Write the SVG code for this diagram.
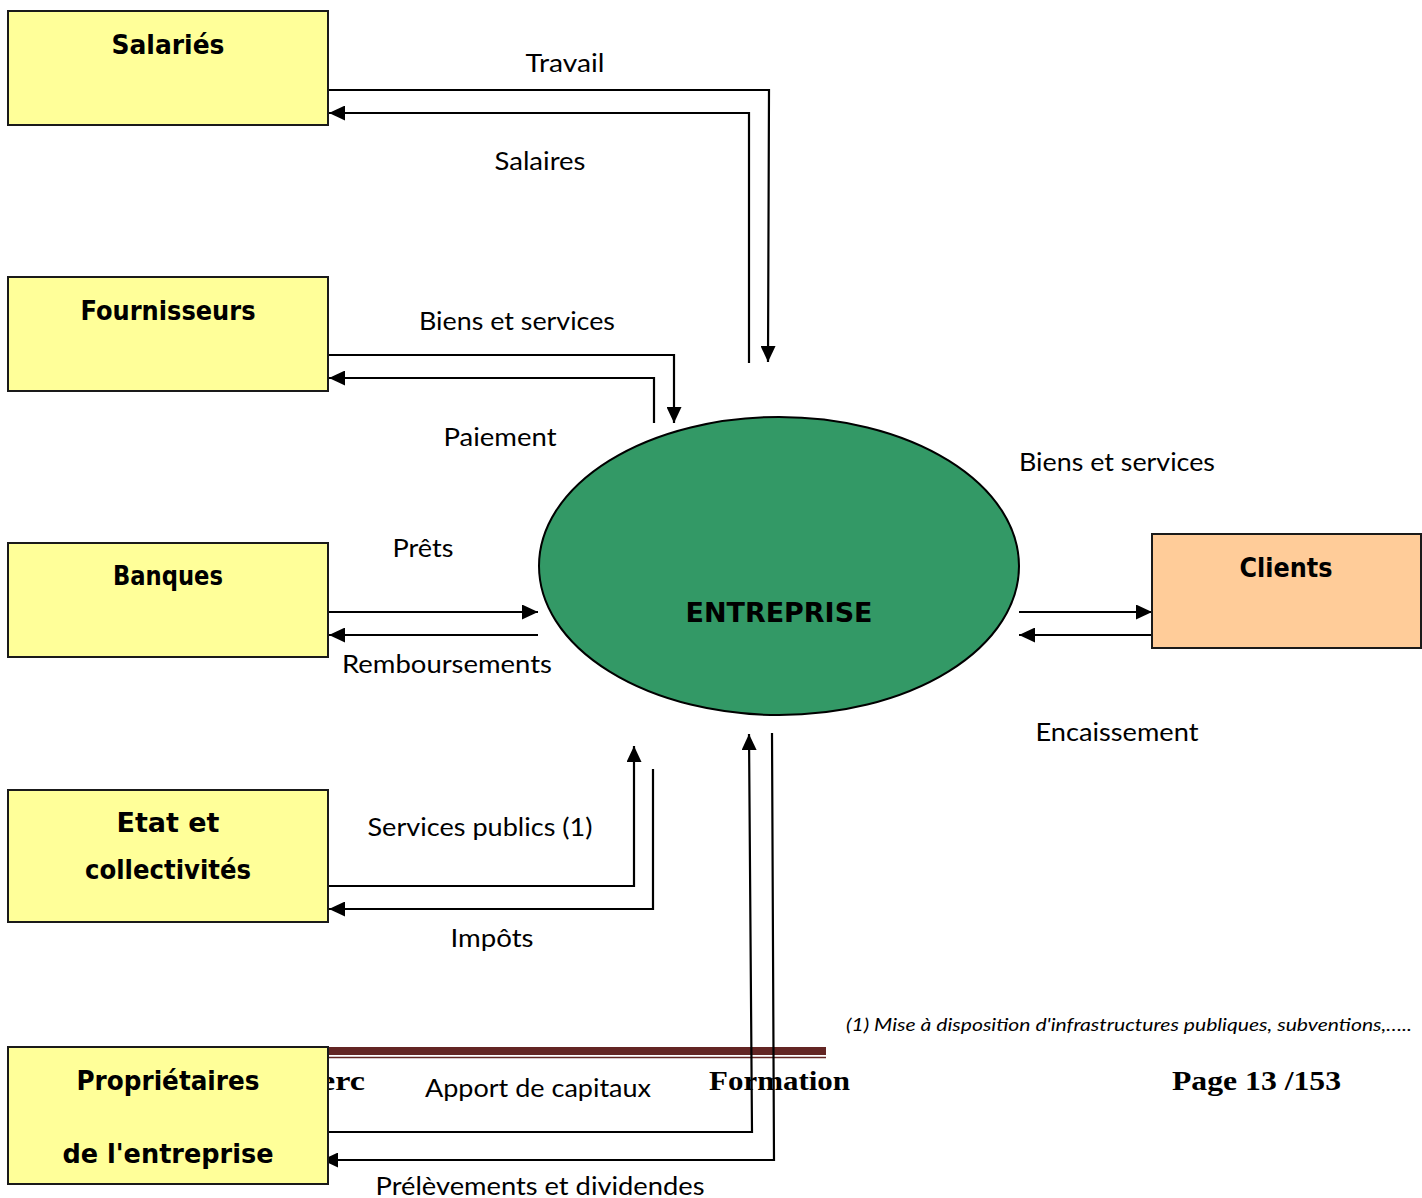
<svg xmlns="http://www.w3.org/2000/svg" width="1422" height="1198" viewBox="0 0 1422 1198">
<style>
.box{fill:#FFFF99;stroke:#1a1a1a;stroke-width:2}
.title{font-family:"DejaVu Sans",sans-serif;font-weight:bold;font-size:26px;fill:#000;text-anchor:middle}
.lbl{font-family:Lato,"Open Sans",sans-serif;font-size:25px;fill:#000;text-anchor:middle}
.ln{fill:none;stroke:#000;stroke-width:2.2}
.ft{font-family:"Liberation Serif",serif;font-weight:bold;font-size:28px;fill:#000}
</style>
<defs>
<marker id="ah" markerUnits="userSpaceOnUse" markerWidth="17" markerHeight="15" refX="16" refY="7.5" orient="auto">
<path d="M0,0 L16,7.5 L0,15 z" fill="#000"/>
</marker>
</defs>
<rect width="1422" height="1198" fill="#fff"/>
<g id="footer">
<rect x="328" y="1047" width="498" height="8" fill="#632523"/>
<line x1="328" y1="1057.5" x2="826" y2="1057.5" stroke="#632523" stroke-width="1.5"/>
<text class="ft" x="320" y="1090" textLength="45" lengthAdjust="spacingAndGlyphs">erc</text>
<text class="ft" x="709" y="1090" textLength="141" lengthAdjust="spacingAndGlyphs">Formation</text>
<text class="ft" x="1172" y="1090" textLength="169" lengthAdjust="spacingAndGlyphs">Page 13 /153</text>
<text x="846" y="1031" font-family="Lato,'Open Sans',sans-serif" font-style="italic" font-size="18" textLength="566" lengthAdjust="spacingAndGlyphs">(1)  Mise à disposition d'infrastructures publiques, subventions,…..</text>
</g>
<g id="connectors">
<polyline class="ln" points="328,90 769,90 768,362" marker-end="url(#ah)"/>
<polyline class="ln" points="749,363 749,113 329,113" marker-end="url(#ah)"/>
<polyline class="ln" points="328,355 674,355 674,423" marker-end="url(#ah)"/>
<polyline class="ln" points="654,423 654,378 329,378" marker-end="url(#ah)"/>
<line class="ln" x1="328" y1="612" x2="538" y2="612" marker-end="url(#ah)"/>
<line class="ln" x1="538" y1="635" x2="329" y2="635" marker-end="url(#ah)"/>
<line class="ln" x1="1019" y1="612" x2="1152" y2="612" marker-end="url(#ah)"/>
<line class="ln" x1="1152" y1="635" x2="1019" y2="635" marker-end="url(#ah)"/>
<polyline class="ln" points="328,886 634,886 634,746" marker-end="url(#ah)"/>
<polyline class="ln" points="653,769 653,909 329,909" marker-end="url(#ah)"/>
<polyline class="ln" points="328,1132 752,1132 749,734" marker-end="url(#ah)"/>
<polyline class="ln" points="772,733 774,1160 322,1160" marker-end="url(#ah)"/>
</g>
<g id="labels">
<text class="lbl" x="565" y="72" textLength="79" lengthAdjust="spacingAndGlyphs">Travail</text>
<text class="lbl" x="540" y="170" textLength="91" lengthAdjust="spacingAndGlyphs">Salaires</text>
<text class="lbl" x="517" y="330" textLength="196" lengthAdjust="spacingAndGlyphs">Biens et services</text>
<text class="lbl" x="500" y="446" textLength="113" lengthAdjust="spacingAndGlyphs">Paiement</text>
<text class="lbl" x="423" y="557" textLength="61" lengthAdjust="spacingAndGlyphs">Prêts</text>
<text class="lbl" x="447" y="673" textLength="210" lengthAdjust="spacingAndGlyphs">Remboursements</text>
<text class="lbl" x="1117" y="471" textLength="196" lengthAdjust="spacingAndGlyphs">Biens et services</text>
<text class="lbl" x="1117" y="741" textLength="163" lengthAdjust="spacingAndGlyphs">Encaissement</text>
<text class="lbl" x="480" y="836" textLength="225" lengthAdjust="spacingAndGlyphs">Services publics (1)</text>
<text class="lbl" x="492" y="947" textLength="83" lengthAdjust="spacingAndGlyphs">Impôts</text>
<text class="lbl" x="538" y="1097" textLength="226" lengthAdjust="spacingAndGlyphs">Apport de capitaux</text>
<text class="lbl" x="540" y="1195" textLength="329" lengthAdjust="spacingAndGlyphs">Prélèvements et dividendes</text>
</g>
<g id="salaries">
<rect class="box" x="8" y="11" width="320" height="114"/>
<text class="title" x="168" y="54" textLength="113" lengthAdjust="spacingAndGlyphs">Salariés</text>
</g>
<g id="fournisseurs">
<rect class="box" x="8" y="277" width="320" height="114"/>
<text class="title" x="168" y="320" textLength="175" lengthAdjust="spacingAndGlyphs">Fournisseurs</text>
</g>
<g id="banques">
<rect class="box" x="8" y="543" width="320" height="114"/>
<text class="title" x="168" y="585" textLength="110" lengthAdjust="spacingAndGlyphs">Banques</text>
</g>
<g id="etat">
<rect class="box" x="8" y="790" width="320" height="132"/>
<text class="title" x="168" y="832" textLength="103" lengthAdjust="spacingAndGlyphs">Etat et</text>
<text class="title" x="168" y="879" textLength="166" lengthAdjust="spacingAndGlyphs">collectivités</text>
</g>
<g id="proprietaires">
<rect class="box" x="8" y="1047" width="320" height="137"/>
<text class="title" x="168" y="1090" textLength="183" lengthAdjust="spacingAndGlyphs">Propriétaires</text>
<text class="title" x="168" y="1163" textLength="211" lengthAdjust="spacingAndGlyphs">de l'entreprise</text>
</g>
<g id="clients">
<rect x="1152" y="534" width="269" height="114" fill="#FFCC99" stroke="#1a1a1a" stroke-width="2"/>
<text class="title" x="1286" y="577" textLength="93" lengthAdjust="spacingAndGlyphs">Clients</text>
</g>
<g id="entreprise">
<ellipse cx="779" cy="566" rx="240" ry="149" fill="#339966" stroke="#000" stroke-width="2"/>
<text class="title" x="779" y="622" textLength="187" lengthAdjust="spacingAndGlyphs">ENTREPRISE</text>
</g>
</svg>
